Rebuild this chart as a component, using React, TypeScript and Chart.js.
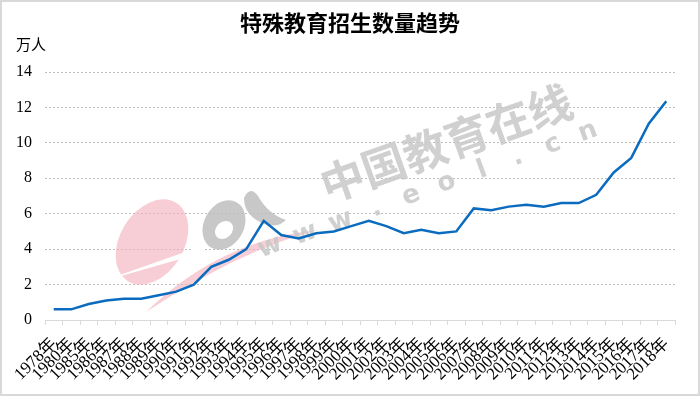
import React, { useEffect, useRef } from "react";
import { Chart, registerables } from "chart.js";

Chart.register(...registerables);

const title = "特殊教育招生数量趋势";
const unitLabel = "万人";
const years = [
  "1978年", "1980年", "1985年", "1986年", "1987年", "1988年", "1989年", "1990年", "1991年",
  "1992年", "1993年", "1994年", "1995年", "1996年", "1997年", "1998年", "1999年", "2000年",
  "2001年", "2002年", "2003年", "2004年", "2005年", "2006年", "2007年", "2008年", "2009年",
  "2010年", "2011年", "2012年", "2013年", "2014年", "2015年", "2016年", "2017年", "2018年",
];
const enrollment = [
  0.6, 0.6, 0.9, 1.1, 1.2, 1.2, 1.4, 1.6, 2.0,
  3.0, 3.4, 4.0, 5.6, 4.8, 4.6, 4.9, 5.0, 5.3,
  5.6, 5.3, 4.9, 5.1, 4.9, 5.0, 6.3, 6.2, 6.4,
  6.5, 6.4, 6.6, 6.6, 7.07, 8.33, 9.15, 11.08, 12.35,
];
const yTicks = [0, 2, 4, 6, 8, 10, 12, 14];
const watermarkCn = "中国教育在线";
const watermarkUrl = "www.eol.cn";

const serif = "'Liberation Serif', 'Noto Sans CJK SC', serif";

const decorPlugin = {
  id: "decor",
  beforeDatasetsDraw(chart: any) {
    const ctx = chart.ctx;
    ctx.save();
    // pink "e"
    ctx.fillStyle = "rgba(243,180,190,0.65)";
    ctx.beginPath();
    ctx.ellipse(152, 242, 32, 46, 0.55, 0, Math.PI * 2);
    ctx.fill();
    ctx.fillStyle = "#ffffff";
    ctx.beginPath();
    ctx.moveTo(100, 282);
    ctx.lineTo(202, 246);
    ctx.lineTo(205, 252);
    ctx.closePath();
    ctx.fill();
    // pink swoosh
    ctx.fillStyle = "rgba(243,180,190,0.65)";
    ctx.beginPath();
    ctx.moveTo(146, 312);
    ctx.quadraticCurveTo(220, 240, 318, 230);
    ctx.quadraticCurveTo(240, 250, 146, 312);
    ctx.fill();
    // gray "o"
    ctx.fillStyle = "rgba(190,190,190,0.85)";
    ctx.beginPath();
    ctx.ellipse(224, 225, 20, 26, 0.5, 0, Math.PI * 2);
    ctx.fill();
    ctx.fillStyle = "#ffffff";
    ctx.beginPath();
    ctx.ellipse(224, 230, 8, 10, 0.8, 0, Math.PI * 2);
    ctx.fill();
    // gray "l"
    ctx.fillStyle = "rgba(190,190,190,0.85)";
    ctx.beginPath();
    ctx.moveTo(244, 198);
    ctx.quadraticCurveTo(250, 185, 258, 196);
    ctx.quadraticCurveTo(268, 214, 286, 220);
    ctx.quadraticCurveTo(276, 230, 260, 222);
    ctx.quadraticCurveTo(244, 214, 244, 198);
    ctx.fill();
    // chinese watermark text
    ctx.fillStyle = "rgba(200,200,200,0.85)";
    ctx.translate(446, 143);
    ctx.rotate(-0.34);
    ctx.font = "bold 44px 'Noto Sans CJK SC'";
    ctx.textAlign = "center";
    ctx.textBaseline = "middle";
    ctx.fillText(watermarkCn, 0, 0);
    ctx.restore();
    // url watermark
    ctx.save();
    ctx.fillStyle = "rgba(200,200,200,0.85)";
    ctx.font = "bold 26px 'DejaVu Sans'";
    ctx.textAlign = "center";
    ctx.textBaseline = "middle";
    const chars = watermarkUrl.split("");
    const x0 = 270, y0 = 247, x1 = 588, y1 = 132;
    chars.forEach((c, i) => {
      const t = i / (chars.length - 1);
      ctx.save();
      ctx.translate(x0 + (x1 - x0) * t, y0 + (y1 - y0) * t);
      ctx.rotate(-0.35);
      ctx.fillText(c, 0, 0);
      ctx.restore();
    });
    ctx.restore();
  },
  afterDraw(chart: any) {
    const ctx = chart.ctx;
    ctx.save();
    ctx.fillStyle = "#000000";
    ctx.textAlign = "center";
    ctx.textBaseline = "middle";
    ctx.font = "bold 22px 'Noto Sans CJK SC'";
    ctx.fillText(title, 350, 23);
    ctx.textAlign = "left";
    ctx.font = "15px 'Noto Sans CJK SC'";
    ctx.fillText(unitLabel, 16, 44);
    ctx.strokeStyle = "#d9d9d9";
    ctx.lineWidth = 2;
    ctx.strokeRect(1, 1, 698, 394);
    ctx.restore();
  },
};

export default function App() {
  const ref = useRef<HTMLCanvasElement | null>(null);
  useEffect(() => {
    if (!ref.current) return;
    const chart = new Chart(ref.current, {
      type: "line",
      data: {
        labels: years,
        datasets: [
          {
            data: enrollment,
            borderColor: "#0b6bbf",
            borderWidth: 2.5,
            pointRadius: 0,
            tension: 0,
            fill: false,
          },
        ],
      },
      options: {
        animation: false,
        responsive: false,
        layout: { padding: { top: 72, left: 0, right: 25, bottom: 0 } },
        plugins: { legend: { display: false }, title: { display: false }, tooltip: { enabled: false } },
        scales: {
          x: {
            offset: true,
            afterFit: (s: any) => { s.height = 76; },
            grid: {
              offset: true,
              drawOnChartArea: false,
              drawTicks: true,
              tickLength: 5,
              color: "#d9d9d9",
            },
            border: { display: true, color: "#d9d9d9", width: 1 },
            ticks: {
              autoSkip: false,
              minRotation: 45,
              maxRotation: 45,
              color: "#000000",
              padding: 9,
              font: { family: serif, size: 17 },
            },
          },
          y: {
            min: 0,
            max: 14,
            afterFit: (s: any) => { s.width = 45; },
            afterBuildTicks: (s: any) => { s.ticks = yTicks.map((v) => ({ value: v })); },
            border: { display: false, dash: [2, 2] },
            grid: {
              drawTicks: false,
              color: (c: any) => (c.tick && c.tick.value === 0 ? "rgba(0,0,0,0)" : "#bdbdbd"),
              lineWidth: 1,
            },
            ticks: {
              color: "#000000",
              padding: 13,
              font: { family: serif, size: 16 },
            },
          },
        },
      },
      plugins: [decorPlugin],
    } as any);
    return () => chart.destroy();
  }, []);
  return (
    <div style={{ position: "fixed", left: 0, top: 0, width: 700, height: 396, background: "#ffffff" }}>
      <canvas ref={ref} width={700} height={396} />
    </div>
  );
}
